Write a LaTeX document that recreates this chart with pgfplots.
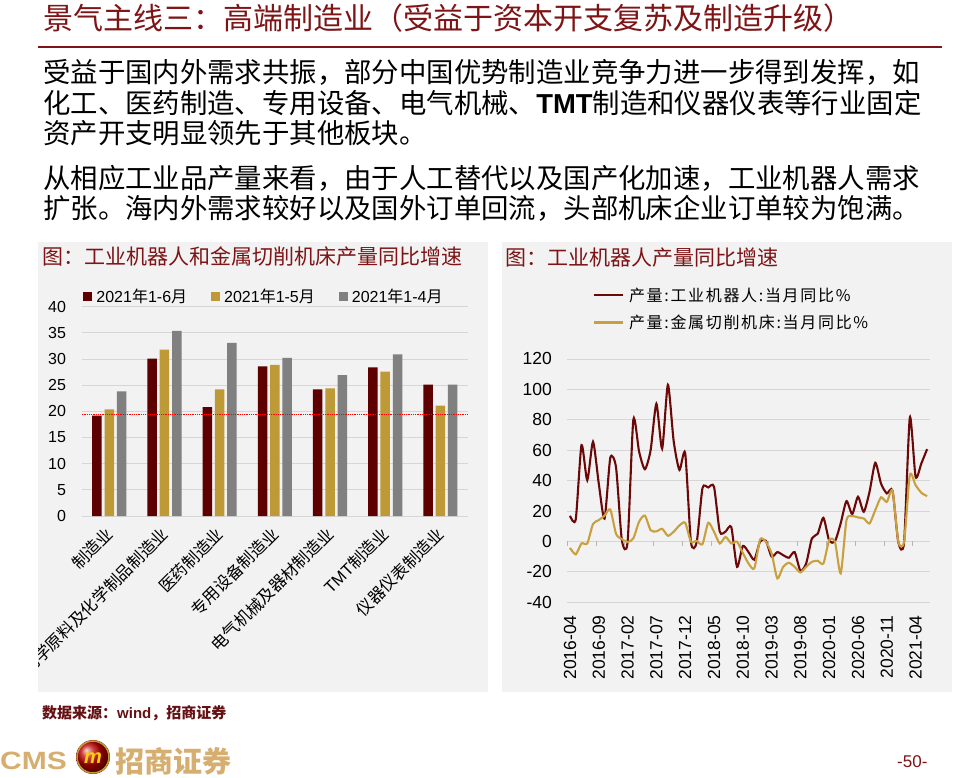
\documentclass[border=0pt]{standalone}
\usepackage{pgfplots}
\pgfplotsset{compat=1.18}
\usepackage{fontspec}
\setmainfont{Liberation Sans}
\newfontfamily\cjk{Noto Sans CJK SC}
\newfontfamily\cjkls[LetterSpace=10.5]{Noto Sans CJK SC}

% stretchable glue between CJK characters, so that a line can be justified
\XeTeXinterchartokenstate=1
\XeTeXinterchartoks 1 1 = {\hskip 0pt plus 1fil\relax}
\XeTeXinterchartoks 1 2 = {\hskip 0pt plus 1fil\relax}
\XeTeXinterchartoks 1 3 = {\hskip 0pt plus 1fil\relax}
\XeTeXinterchartoks 2 1 = {\hskip 0pt plus 1fil\relax}
\XeTeXinterchartoks 3 1 = {\hskip 0pt plus 1fil\relax}
\XeTeXinterchartoks 3 0 = {\hskip 0pt plus 1fil\relax}
\XeTeXinterchartoks 0 1 = {\hskip 0pt plus 1fil\relax}
\XeTeXinterchartoks 1 0 = {\hskip 0pt plus 1fil\relax}

\definecolor{barRed}{RGB}{94,0,0}
\definecolor{barGold}{RGB}{190,154,54}
\definecolor{barGray}{RGB}{128,128,128}
\definecolor{panel}{RGB}{242,242,242}
\definecolor{gridc}{RGB}{214,214,214}
\definecolor{titlered}{RGB}{126,20,22}
\definecolor{robot}{RGB}{108,8,8}
\definecolor{metal}{RGB}{200,160,62}
\definecolor{tan}{RGB}{214,174,112}

\pgfplotsset{sqlegend/.style={legend image code/.code={\fill[##1] (0pt,-4.5pt) rectangle (9pt,4.5pt);}}}

\begin{document}
\begin{tikzpicture}[x=1pt,y=1pt]
\path[use as bounding box, fill=white] (0,0) rectangle (956,777);

% header
\node[anchor=west, inner sep=0pt, text=titlered] at (43,759)
  {\cjk\fontsize{30}{30}\selectfont 景气主线三：高端制造业（受益于资本开支复苏及制造升级）};
\draw[titlered, line width=2pt] (38,730) -- (942,730);

% text
\begin{scope}[every node/.style={anchor=west, inner sep=0pt}]
\node at (43,705) {\cjk\fontsize{27.4}{27.4}\selectfont\makebox[877pt][s]{受益于国内外需求共振，部分中国优势制造业竞争力进一步得到发挥，如}};
\node at (43,674) {\cjk\fontsize{27.4}{27.4}\selectfont\makebox[877pt][s]{化工、医药制造、专用设备、电气机械、{\normalfont\bfseries TMT}制造和仪器仪表等行业固定}};
\node at (43,644) {\cjk\fontsize{27.4}{27.4}\selectfont 资产开支明显领先于其他板块。};
\node at (43,599) {\cjk\fontsize{27.4}{27.4}\selectfont\makebox[877pt][s]{从相应工业品产量来看，由于人工替代以及国产化加速，工业机器人需求}};
\node at (43,569) {\cjk\fontsize{27.4}{27.4}\selectfont\makebox[877pt][s]{扩张。海内外需求较好以及国外订单回流，头部机床企业订单较为饱满。}};
\end{scope}

% panels
\fill[panel] (38,85) rectangle (488,535);
\fill[panel] (502,85) rectangle (952,535);
\node[anchor=west, inner sep=0pt, text=titlered] at (42.7,520.3)
  {\cjk\fontsize{21}{21}\selectfont 图：工业机器人和金属切削机床产量同比增速};
\node[anchor=west, inner sep=0pt, text=titlered] at (505,519.3)
  {\cjk\fontsize{21}{21}\selectfont 图：工业机器人产量同比增速};

% left chart
\begin{axis}[
  at={(81.7pt,261pt)}, anchor=south west,
  scale only axis, width=386.3pt, height=209.3pt,
  ybar=2.8pt, bar width=9.5pt,
  xmin=-0.5, xmax=6.5, ymin=0, ymax=40,
  xtick={0,...,6},
  xticklabels={制造业,化学原料及化学制品制造业,医药制造业,专用设备制造业,电气机械及器材制造业,{\normalfont TMT}制造业,仪器仪表制造业},
  ytick={0,5,...,40},
  ymajorgrids, grid style={gridc, line width=0.8pt},
  axis line style={draw=none}, tick style={draw=none},
  /pgf/number format/assume math mode=true,
  yticklabel style={font=\fontsize{16}{16}\selectfont, inner sep=0pt, xshift=-15.5pt},
  xticklabel style={font=\cjk\fontsize{16.5}{16.5}\selectfont, inner sep=0pt,
    xshift=-5pt, yshift=-5pt, rotate=45, anchor=north east},
  legend columns=3, legend cell align=left,
  legend style={at={(0.004,1.048)}, anchor=west, draw=none, fill=none,
    inner sep=0pt, nodes={inner sep=0pt}, font=\fontsize{16}{16}\selectfont,
    /tikz/every odd column/.append style={column sep=4pt},
    /tikz/every even column/.append style={column sep=24pt}},
]
\addplot[fill=barRed, draw=none, sqlegend] coordinates {(0,19.2) (1,30.1) (2,20.8) (3,28.6) (4,24.2) (5,28.4) (6,25.1)};
\addplot[fill=barGold, draw=none, sqlegend] coordinates {(0,20.4) (1,31.8) (2,24.2) (3,28.9) (4,24.4) (5,27.6) (6,21.1)};
\addplot[fill=barGray, draw=none, sqlegend] coordinates {(0,23.8) (1,35.4) (2,33.1) (3,30.2) (4,26.9) (5,30.9) (6,25.1)};
\addplot[sharp plot, forget plot, red, densely dotted, line width=0.8pt] coordinates {(-0.5,19.5) (6.5,19.5)};
\legend{2021{\cjk 年}1-6{\cjk 月},2021{\cjk 年}1-5{\cjk 月},2021{\cjk 年}1-4{\cjk 月}}
\end{axis}

% right chart
\begin{axis}[
  at={(567.1pt,174.7pt)}, anchor=south west,
  scale only axis, width=362.9pt, height=243.4pt,
  xmin=-0.5, xmax=62.5, ymin=-40, ymax=120,
  xtick={0,5,...,60},
  xticklabels={2016-04,2016-09,2017-02,2017-07,2017-12,2018-05,2018-10,2019-03,2019-08,2020-01,2020-06,2020-11,2021-04},
  ytick={-40,-20,...,120},
  ymajorgrids, grid style={gridc, line width=0.8pt},
  axis line style={draw=none}, tick style={draw=none},
  /pgf/number format/assume math mode=true,
  yticklabel style={font=\fontsize{17.5}{17.5}\selectfont, inner sep=0pt, xshift=-15pt},
  xticklabel style={font=\fontsize{17.5}{17.5}\selectfont, inner sep=0pt,
    yshift=-13pt, rotate=90, anchor=east},
  legend cell align=left,
  legend image code/.code={\draw[#1] (0pt,0pt) -- (29pt,0pt);},
  legend style={at={(0.0714,1.2925)}, anchor=north west, draw=none, fill=none,
    inner sep=0pt, nodes={inner sep=0pt}, row sep=12.1pt,
    font=\cjkls\fontsize{16}{16}\selectfont,
    /tikz/every odd column/.append style={column sep=4.7pt}},
]
\addplot[robot, line width=2.1pt, smooth, tension=0.4] coordinates {
(0,16.9) (1,14.5) (2,63.3) (3,40.3) (4,65.5) (5,38) (6,15) (7,55) (8,48.5) (9,1)
(10,-0.5) (11,80) (12,59) (13,47.5) (14,60) (15,90.5) (16,61) (17,103) (18,66) (19,47)
(20,58) (21,-0.5) (22,-0.5) (23,35) (24,35.5) (25,36) (26,6.5) (27,6.5) (28,9.5) (29,-16.7)
(30,-3) (31,-7) (32,-12) (33,0) (34,0.5) (35,-10) (36,-7) (37,-9) (38,-10.7) (39,-7)
(40,-19.3) (41,-14.5) (42,2) (43,5) (44,15.5) (45,0.5) (46,0) (47,12) (48,26.5) (49,18)
(50,29.4) (51,19.5) (52,32.6) (53,51.7) (54,38) (55,31.6) (56,33.3) (57,-0.5) (58,-0.5) (59,81.5)
(60,42.5) (61,51.3) (62,60.7)};
\addlegendentry{产量:工业机器人:当月同比\%}
\addplot[metal, line width=2.1pt, smooth, tension=0.4] coordinates {
(0,-4.2) (1,-8.5) (2,-1.3) (3,-1.3) (4,11.5) (5,14) (6,17) (7,21) (8,5) (9,1.5)
(10,-0.4) (11,2) (12,13) (13,17) (14,7.4) (15,6.6) (16,8.3) (17,3.7) (18,6.4) (19,10.5)
(20,12.3) (21,-0.2) (22,0.4) (23,-1.8) (24,12.3) (25,6.4) (26,-1.3) (27,3) (28,-1.3) (29,-0.2)
(30,-7.5) (31,-14.5) (32,-17.7) (33,1.3) (34,-0.2) (35,-7.9) (36,-24.3) (37,-16.7) (38,-14) (39,-16.7)
(40,-20.4) (41,-16.7) (42,-13.4) (43,-12.7) (44,-14.5) (45,0.9) (46,-0.2) (47,-21) (48,14) (49,16.7)
(50,15.8) (51,15.1) (52,11.8) (53,20.6) (54,29) (55,26) (56,33.3) (57,-0.2) (58,-0.2) (59,43.6)
(60,37) (61,32) (62,29.8)};
\addlegendentry{产量:金属切削机床:当月同比\%}
\pgfplotsinvokeforeach{0,...,12}{
  \draw[gridc!85!black, line width=0.8pt] (axis cs:{5*#1-0.5},0) -- ++(0pt,-5pt);
}
\end{axis}

% hide the part of the long category name that runs out of the panel
\fill[white] (0,80) rectangle (37.6,230);

% footer
\node[anchor=west, inner sep=0pt, text=titlered!80!black] at (42,64.3)
  {\cjk\bfseries\fontsize{15}{15}\selectfont 数据来源：{\normalfont\bfseries wind}，招商证券};
\node[anchor=west, inner sep=0pt, text=tan, xscale=1.2] at (0,16)
  {\bfseries\fontsize{25}{25}\selectfont CMS};
\shade[ball color=red!75!black] (93,20) circle (17);
\draw[barGold, line width=1.5pt] (93,20) circle (16);
\node[text=yellow!70!orange, inner sep=0pt] at (93,19)
  {\bfseries\itshape\fontsize{20}{20}\selectfont m};
\node[anchor=west, inner sep=0pt, text=tan] at (115,16)
  {\cjk\bfseries\fontsize{29}{29}\selectfont 招商证券};
\node[anchor=west, inner sep=0pt, text=titlered] at (897,15)
  {\fontsize{17}{17}\selectfont -50-};
\end{tikzpicture}
\end{document}
